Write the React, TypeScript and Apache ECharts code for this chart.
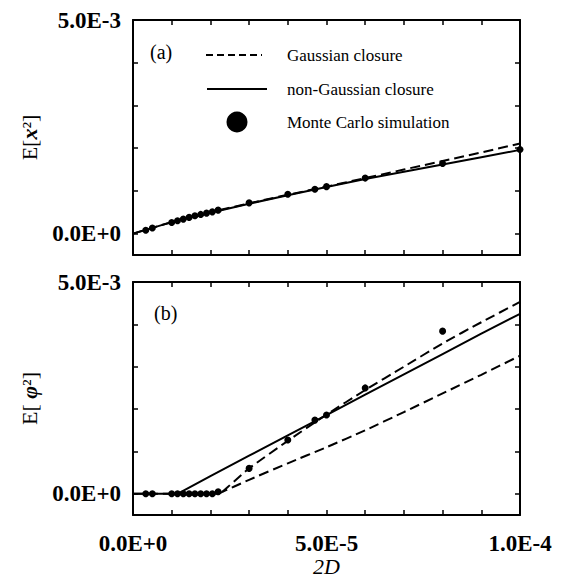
import React, { useEffect, useRef } from "react";
import * as echarts from "echarts";

// Panel (a): E[x^2]
const aLineX = [0, 1e-5, 2e-5, 3e-5, 4e-5, 5e-5, 6e-5, 7e-5, 8e-5, 9e-5, 1e-4];
const aGauss = [0, 0.27e-3, 0.5e-3, 0.71e-3, 0.91e-3, 1.1e-3, 1.3e-3, 1.5e-3, 1.7e-3, 1.9e-3, 2.11e-3];
const aNonGauss = [0, 0.27e-3, 0.49e-3, 0.7e-3, 0.9e-3, 1.09e-3, 1.28e-3, 1.45e-3, 1.62e-3, 1.79e-3, 1.96e-3];
const aMcX = [0.33e-5, 0.5e-5, 1.0e-5, 1.15e-5, 1.3e-5, 1.45e-5, 1.6e-5, 1.75e-5, 1.9e-5, 2.05e-5, 2.2e-5, 3e-5, 4e-5, 4.7e-5, 5e-5, 6e-5, 8e-5, 1e-4];
const aMcY = [0.08e-3, 0.13e-3, 0.26e-3, 0.3e-3, 0.34e-3, 0.38e-3, 0.42e-3, 0.45e-3, 0.48e-3, 0.51e-3, 0.55e-3, 0.72e-3, 0.92e-3, 1.04e-3, 1.1e-3, 1.3e-3, 1.64e-3, 1.97e-3];

// Panel (b): E[phi^2]
const bGaussUpperX = [0, 2.2e-5, 2.5e-5, 3e-5, 4e-5, 5e-5, 6e-5, 7e-5, 8e-5, 9e-5, 1e-4];
const bGaussUpperY = [0, 0, 0.2e-3, 0.6e-3, 1.25e-3, 1.87e-3, 2.45e-3, 3.0e-3, 3.55e-3, 4.05e-3, 4.53e-3];
const bGaussLowerX = [2.2e-5, 3e-5, 4e-5, 5e-5, 6e-5, 7e-5, 8e-5, 9e-5, 1e-4];
const bGaussLowerY = [0, 0.33e-3, 0.72e-3, 1.1e-3, 1.5e-3, 1.93e-3, 2.37e-3, 2.81e-3, 3.26e-3];
const bNonGaussX = [0, 1.15e-5, 2e-5, 3e-5, 4e-5, 5e-5, 6e-5, 7e-5, 8e-5, 9e-5, 1e-4];
const bNonGaussY = [0, 0, 0.42e-3, 0.9e-3, 1.38e-3, 1.86e-3, 2.34e-3, 2.82e-3, 3.3e-3, 3.78e-3, 4.25e-3];
const bMcX = [0.33e-5, 0.5e-5, 1.0e-5, 1.15e-5, 1.3e-5, 1.45e-5, 1.6e-5, 1.75e-5, 1.9e-5, 2.05e-5, 2.2e-5, 3e-5, 4e-5, 4.7e-5, 5e-5, 6e-5, 8e-5];
const bMcY = [0, 0, 0, 0, 0, 0, 0, 0, 0, 0, 0.05e-3, 0.6e-3, 1.27e-3, 1.74e-3, 1.86e-3, 2.5e-3, 3.84e-3];

// Ticks and labels
const xTickValues = [0, 1e-5, 2e-5, 3e-5, 4e-5, 5e-5, 6e-5, 7e-5, 8e-5, 9e-5, 1e-4];
const xLabelValues = [0, 5e-5, 1e-4];
const yTickValues = [0, 1e-3, 2e-3, 3e-3, 4e-3, 5e-3];
const yLabelValues = [0, 5e-3];

const NAMES = ["Gaussian closure", "non-Gaussian closure", "Monte Carlo simulation"];

const zip = (xs: number[], ys: number[]) => xs.map((x, i) => [x, ys[i]]);
const fmt = (v: number) => v.toExponential(1).replace("e", "E");

const SERIF = "'Liberation Serif', 'DejaVu Serif', serif";

export default function App() {
  const ref = useRef<HTMLDivElement>(null);
  useEffect(() => {
    if (!ref.current) return;
    const chart = echarts.init(ref.current, undefined, { renderer: "svg" });

    const axisLine = { show: true, onZero: false, lineStyle: { color: "#000", width: 2 } };
    const tick = (vals: number[]) => ({
      show: true,
      inside: true,
      length: 5,
      customValues: vals,
      lineStyle: { color: "#000", width: 1.5 },
    });
    const labelStyle = {
      color: "#000",
      fontFamily: SERIF,
      fontWeight: "bold" as const,
      fontSize: 23,
    };

    const xAxisFor = (grid: number, pos: "top" | "bottom", labels: boolean) => ({
      type: "value",
      gridIndex: grid,
      position: pos,
      min: 0,
      max: 1e-4,
      axisLine,
      axisTick: tick(xTickValues),
      splitLine: { show: false },
      axisLabel: labels
        ? { show: true, customValues: xLabelValues, formatter: fmt, margin: 17, ...labelStyle }
        : { show: false },
    });
    const yAxisFor = (grid: number, pos: "left" | "right", labels: boolean) => ({
      type: "value",
      gridIndex: grid,
      position: pos,
      min: -0.5e-3,
      max: 5e-3,
      axisLine,
      axisTick: tick(yTickValues),
      splitLine: { show: false },
      axisLabel: labels
        ? { show: true, customValues: yLabelValues, formatter: fmt, margin: 12, ...labelStyle }
        : { show: false },
    });

    const nameRich = {
      t: { fontFamily: SERIF, fontSize: 22, color: "#000" },
      i: { fontFamily: SERIF, fontSize: 22, fontStyle: "italic", fontWeight: "bold", color: "#000" },
    };

    const xAxes: any[] = [
      xAxisFor(0, "bottom", false),
      xAxisFor(0, "top", false),
      {
        ...xAxisFor(1, "bottom", true),
        name: "2D",
        nameLocation: "middle",
        nameGap: 40,
        nameTextStyle: { fontFamily: SERIF, fontStyle: "italic", fontSize: 22, color: "#000" },
      },
      xAxisFor(1, "top", false),
    ];
    const yAxes: any[] = [
      {
        ...yAxisFor(0, "left", true),
        name: "{t|E[}{i|x}{t|²]}",
        nameLocation: "middle",
        nameRotate: 90,
        nameGap: 93,
        nameTextStyle: { rich: nameRich },
      },
      yAxisFor(0, "right", false),
      {
        ...yAxisFor(1, "left", true),
        name: "{t|E[ }{i|φ}{t|²]}",
        nameLocation: "middle",
        nameRotate: 90,
        nameGap: 93,
        nameTextStyle: { rich: nameRich },
      },
      yAxisFor(1, "right", false),
    ];

    const dashed = { color: "#000", width: 2, type: [10, 5] as any };
    const solid = { color: "#000", width: 2, type: "solid" as const };
    const dot = { color: "#000", opacity: 1 };

    const series: any[] = [
      { name: NAMES[0], type: "line", xAxisIndex: 0, yAxisIndex: 0, data: zip(aLineX, aGauss), showSymbol: false, symbol: "none", lineStyle: dashed, z: 2 },
      { name: NAMES[1], type: "line", xAxisIndex: 0, yAxisIndex: 0, data: zip(aLineX, aNonGauss), showSymbol: false, symbol: "none", lineStyle: solid, z: 2 },
      { name: NAMES[2], type: "scatter", xAxisIndex: 0, yAxisIndex: 0, data: zip(aMcX, aMcY), symbol: "circle", symbolSize: 7, itemStyle: dot, z: 3 },
      { name: NAMES[0], type: "line", xAxisIndex: 2, yAxisIndex: 2, data: zip(bGaussUpperX, bGaussUpperY), showSymbol: false, symbol: "none", smooth: 0.2, lineStyle: dashed, z: 2 },
      { name: NAMES[0], type: "line", xAxisIndex: 2, yAxisIndex: 2, data: zip(bGaussLowerX, bGaussLowerY), showSymbol: false, symbol: "none", smooth: 0.2, lineStyle: dashed, z: 2 },
      { name: NAMES[1], type: "line", xAxisIndex: 2, yAxisIndex: 2, data: zip(bNonGaussX, bNonGaussY), showSymbol: false, symbol: "none", lineStyle: solid, z: 2 },
      { name: NAMES[2], type: "scatter", xAxisIndex: 2, yAxisIndex: 2, data: zip(bMcX, bMcY), symbol: "circle", symbolSize: 7, itemStyle: dot, z: 3 },
    ];

    const legendFont = `17px ${SERIF}`;
    chart.setOption({
      animation: false,
      backgroundColor: "#fff",
      grid: [
        { left: 133, top: 20, width: 387, height: 235, containLabel: false },
        { left: 133, top: 282, width: 387, height: 233, containLabel: false },
      ],
      xAxis: xAxes,
      yAxis: yAxes,
      graphic: [
        { type: "text", x: 150, y: 42, style: { text: "(a)", font: `20px ${SERIF}`, fill: "#000" } },
        { type: "text", x: 154, y: 303, style: { text: "(b)", font: `20px ${SERIF}`, fill: "#000" } },
        { type: "line", shape: { x1: 206, y1: 55, x2: 262, y2: 55 }, style: { stroke: "#000", lineWidth: 2, lineDash: [7, 4] } },
        { type: "text", x: 287, y: 55, style: { text: NAMES[0], font: legendFont, fill: "#000", verticalAlign: "middle" } },
        { type: "line", shape: { x1: 207, y1: 89, x2: 267, y2: 89 }, style: { stroke: "#000", lineWidth: 2 } },
        { type: "text", x: 287, y: 89, style: { text: NAMES[1], font: legendFont, fill: "#000", verticalAlign: "middle" } },
        { type: "circle", shape: { cx: 237, cy: 122, r: 10.5 }, style: { fill: "#000" } },
        { type: "text", x: 287, y: 122, style: { text: NAMES[2], font: legendFont, fill: "#000", verticalAlign: "middle" } },
      ],
      series,
    });
    return () => chart.dispose();
  }, []);
  return (
    <div
      ref={ref}
      style={{ position: "fixed", left: 0, top: 0, width: 563, height: 581, background: "#fff" }}
    />
  );
}
